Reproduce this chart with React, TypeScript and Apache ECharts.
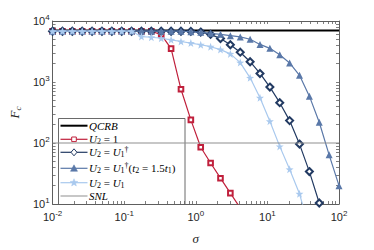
import React, { useEffect, useRef } from "react";
import * as echarts from "echarts";

const sigma = [
  0.01, 0.01374, 0.01887, 0.02593, 0.03562, 0.04894, 0.06723, 0.09237, 0.1269, 0.1743,
  0.2395, 0.329, 0.452, 0.621, 0.8532, 1.172, 1.61, 2.212, 3.039, 4.175,
  5.736, 7.88, 10.83, 14.87, 20.43, 28.07, 38.57, 52.98, 72.79, 100,
];

const qcrbSigma = [0.01, 100];
const qcrbValues = [7000, 7000];
const snlValues = [100, 100];

const u2OneValues = [
  6800, 6800, 6800, 6800, 6800, 6800, 6800, 6800, 6800, 6800,
  6800, 5970, 3520, 760, 239, 85, 47, 26.5, 15.1, 8.6,
];

const u2DagValues = [
  6800, 6800, 6800, 6800, 6800, 6800, 6800, 6800, 6800, 6800,
  6800, 6800, 6800, 6800, 6760, 6590, 6040, 5150, 4080, 3080,
  2150, 1380, 826, 458, 233, 96, 34, 10.4, 3,
];

const u2DagT15Values = [
  6800, 6800, 6800, 6800, 6800, 6800, 6800, 6800, 6800, 6800,
  6800, 6800, 6800, 6800, 6670, 6510, 6270, 6040, 5750, 5480,
  5020, 4130, 3560, 2790, 2050, 1285, 586, 219, 64, 20,
];

const u2U1Values = [
  6800, 6800, 6800, 6800, 6800, 6800, 6800, 6800, 6800, 5550,
  5410, 5210, 4910, 4610, 4340, 4080, 3790, 3400, 2890, 2080,
  1170, 551, 228, 88, 37, 14.7, 4,
];

const xDecades = [-2, -1, 0, 1];
const yDecades = [1, 2, 3];

const legendLabels = [
  "{i|QCRB}",
  "{i|U}{sub|2}{r| = 1}",
  "{i|U}{sub|2}{r| = }{i|U}{sub|1}{sup|†}",
  "{i|U}{sub|2}{r| = }{i|U}{sub|1}{sup|†}{r|(}{i|t}{sub|2}{r| = 1.5}{i|t}{sub|1}{r|)}",
  "{i|U}{sub|2}{r| = }{i|U}{sub|1}",
  "{i|SNL}",
];

const RED = "#c0203c";
const NAVY = "#223a62";
const MID = "#5a78a8";
const LIGHT = "#a9c9ee";
const SNLC = "#8f8f8f";
const AXC = "#5e5e5e";
const TXT = "#262626";
const SANS = "'Liberation Sans', Arial, sans-serif";
const SERIF = "'Liberation Serif', 'DejaVu Serif', serif";
const STAR =
  "path://M0,-10 L2.35,-3.24 L9.51,-3.09 L3.8,1.24 L5.88,8.09 L0,4 L-5.88,8.09 L-3.8,1.24 L-9.51,-3.09 L-2.35,-3.24 Z";

function minorTicks(decades: number[]) {
  const out: number[] = [];
  decades.forEach((d) => {
    for (let m = 1; m <= 9; m++) out.push(m * Math.pow(10, d));
  });
  out.push(Math.pow(10, decades[decades.length - 1] + 1));
  return out;
}

const mathRich = {
  i: { fontFamily: SERIF, fontStyle: "italic", fontSize: 11, color: "#000" },
  r: { fontFamily: SERIF, fontSize: 11, color: "#000" },
  sub: { fontFamily: SERIF, fontStyle: "normal", fontSize: 8, color: "#000", padding: [5, 0, 0, 0] },
  sup: { fontFamily: SERIF, fontSize: 8, color: "#000", padding: [0, 0, 6, 0] },
};

const tickRich = {
  b: { fontFamily: SANS, fontSize: 11, color: TXT },
  s: { fontFamily: SANS, fontSize: 8, color: TXT, padding: [0, 0, 8, 0] },
};

const expFormatter = (v: number) => {
  const e = Math.round(Math.log10(v));
  return `{b|10}{s|${e}}`;
};

function pairs(vals: number[]) {
  return vals.map((v, i) => [sigma[i], v]);
}

export default function App() {
  const ref = useRef<HTMLDivElement>(null);
  useEffect(() => {
    if (!ref.current) return;
    const chart = echarts.init(ref.current, undefined, { renderer: "svg" });
    const xTicks = minorTicks(xDecades);
    const yTicks = minorTicks(yDecades);
    const baseX = {
      type: "log",
      logBase: 10,
      min: 0.01,
      max: 100,
      splitLine: { show: false },
      minorTick: { show: false },
      axisLine: { show: true, lineStyle: { color: AXC, width: 1 } },
      axisTick: { show: true, inside: true, length: 3, customValues: xTicks, lineStyle: { color: AXC, width: 0.8 } },
    };
    const baseY = {
      type: "log",
      logBase: 10,
      min: 10,
      max: 10000,
      splitLine: { show: false },
      minorTick: { show: false },
      axisLine: { show: true, lineStyle: { color: AXC, width: 1 } },
      axisTick: { show: true, inside: true, length: 3, customValues: yTicks, lineStyle: { color: AXC, width: 0.8 } },
    };

    const rowY = [125.7, 139.3, 152.3, 168.3, 182.7, 196];
    const lx1 = 60.5;
    const lx2 = 87.5;
    const lcx = (lx1 + lx2) / 2;
    const legendChildren: any[] = [
      {
        type: "rect",
        shape: { x: 58.5, y: 118.5, width: 126.5, height: 86 },
        style: { fill: "#fff", stroke: "#6a6a6a", lineWidth: 1 },
      },
    ];
    const lineColors = ["#000", RED, NAVY, MID, LIGHT, SNLC];
    const lineWidths = [2, 1.2, 1.2, 1.2, 1.2, 1];
    rowY.forEach((y, i) => {
      legendChildren.push({
        type: "line",
        shape: { x1: lx1, y1: y, x2: lx2, y2: y },
        style: { stroke: lineColors[i], lineWidth: lineWidths[i] },
      });
      legendChildren.push({
        type: "text",
        style: {
          x: 89,
          y: y,
          text: legendLabels[i],
          rich: mathRich,
          verticalAlign: "middle",
          textVerticalAlign: "middle",
          align: "left",
          font: `italic 11px ${SERIF}`,
        },
      });
    });
    // legend markers
    legendChildren.push({
      type: "rect",
      shape: { x: lcx - 2.3, y: rowY[1] - 2.3, width: 4.6, height: 4.6 },
      style: { fill: "#fff", stroke: RED, lineWidth: 1 },
    });
    legendChildren.push({
      type: "polygon",
      shape: { points: [[lcx, rowY[2] - 3.5], [lcx + 3, rowY[2]], [lcx, rowY[2] + 3.5], [lcx - 3, rowY[2]]] },
      style: { fill: "#fff", stroke: NAVY, lineWidth: 1 },
    });
    legendChildren.push({
      type: "polygon",
      shape: { points: [[lcx, rowY[3] - 3.5], [lcx + 3.5, rowY[3] + 3], [lcx - 3.5, rowY[3] + 3]] },
      style: { fill: MID, stroke: MID, lineWidth: 0.5 },
    });
    const starPts: number[][] = [];
    for (let k = 0; k < 10; k++) {
      const r = k % 2 === 0 ? 4 : 1.7;
      const a = -Math.PI / 2 + (k * Math.PI) / 5;
      starPts.push([lcx + r * Math.cos(a), rowY[4] + r * Math.sin(a)]);
    }
    legendChildren.push({
      type: "polygon",
      shape: { points: starPts },
      style: { fill: LIGHT, stroke: LIGHT, lineWidth: 0.5 },
    });

    chart.setOption({
      animation: false,
      backgroundColor: "#fff",
      grid: { left: 49, right: 35, top: 21, bottom: 42, containLabel: false },
      xAxis: [
        {
          ...baseX,
          position: "bottom",
          axisLabel: { show: true, formatter: expFormatter, rich: tickRich, margin: 5 },
          name: "σ",
          nameLocation: "middle",
          nameGap: 28,
          nameTextStyle: { fontFamily: SERIF, fontStyle: "italic", fontSize: 13, color: TXT },
        },
        { ...baseX, position: "top", axisLabel: { show: false } },
      ],
      yAxis: [
        {
          ...baseY,
          position: "left",
          axisLabel: { show: true, formatter: expFormatter, rich: tickRich, margin: 3 },
          name: "{i|F}{sub|c}",
          nameLocation: "middle",
          nameGap: 28,
          nameRotate: 90,
          nameTextStyle: {
            rich: {
              i: { fontFamily: SERIF, fontStyle: "italic", fontSize: 13, color: TXT },
              sub: { fontFamily: SERIF, fontStyle: "italic", fontSize: 9, color: TXT, padding: [6, 0, 0, 0] },
            },
          },
        },
        { ...baseY, position: "right", axisLabel: { show: false } },
      ],
      series: [
        {
          name: "QCRB",
          type: "line",
          data: qcrbValues.map((v, i) => [qcrbSigma[i], v]),
          symbol: "none",
          lineStyle: { color: "#000", width: 2 },
          z: 2,
        },
        {
          name: "U2=1",
          type: "line",
          data: pairs(u2OneValues),
          symbol: "emptyRect",
          symbolSize: 4.6,
          itemStyle: { color: RED, borderColor: RED, borderWidth: 1 },
          lineStyle: { color: RED, width: 1.2 },
          clip: true,
          z: 3,
        },
        {
          name: "U2=U1dag",
          type: "line",
          data: pairs(u2DagValues),
          symbol: "emptyDiamond",
          symbolSize: 7,
          itemStyle: { color: NAVY, borderColor: NAVY, borderWidth: 1 },
          lineStyle: { color: NAVY, width: 1.2 },
          clip: true,
          z: 4,
        },
        {
          name: "U2=U1dag(t2=1.5t1)",
          type: "line",
          data: pairs(u2DagT15Values),
          symbol: "triangle",
          symbolSize: 7,
          itemStyle: { color: MID },
          lineStyle: { color: MID, width: 1.2 },
          clip: true,
          z: 5,
        },
        {
          name: "U2=U1",
          type: "line",
          data: pairs(u2U1Values),
          symbol: STAR,
          symbolSize: 8,
          itemStyle: { color: LIGHT },
          lineStyle: { color: LIGHT, width: 1.2 },
          clip: true,
          z: 6,
        },
        {
          name: "SNL",
          type: "line",
          data: snlValues.map((v, i) => [qcrbSigma[i], v]),
          symbol: "none",
          lineStyle: { color: SNLC, width: 1 },
          z: 7,
        },
      ],
      graphic: [{ type: "group", z: 100, children: legendChildren }],
    });
    return () => chart.dispose();
  }, []);
  return (
    <div
      ref={ref}
      style={{ position: "fixed", left: 0, top: 0, width: 374, height: 250, background: "#fff" }}
    />
  );
}
